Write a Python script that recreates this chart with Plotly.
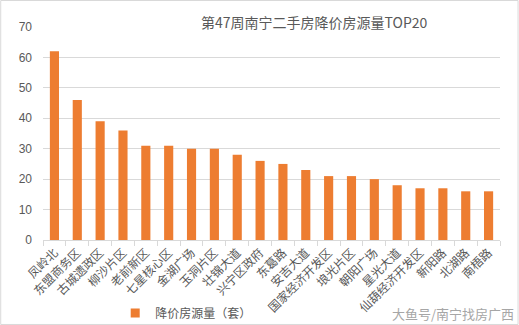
import plotly.graph_objects as go

categories = ["凤岭北", "东盟商务区", "古城遗政区", "柳沙片区", "老前新区", "七星核心区",
              "金湖广场", "玉洞片区", "壮锦大道", "兴宁区政府", "东葛路", "安吉大道",
              "国家经济开发区", "埌光片区", "朝阳广场", "星光大道", "仙葫经济开发区",
              "新阳路", "北湖路", "南梧路"]
values = [62, 46, 39, 36, 31, 31, 30, 30, 28, 26, 25, 23, 21, 21, 20, 18, 17, 17, 16, 16]
series_name = "降价房源量（套）"
title_text = "第47周南宁二手房降价房源量TOP20"
watermark = "大鱼号/南宁找房广西"
y_ticks = [0, 10, 20, 30, 40, 50, 60, 70]

FONT = "Noto Sans CJK SC, sans-serif"
GRAY = "#595959"
ORANGE = "#ED7D31"

fig = go.Figure()
fig.add_trace(go.Bar(x=categories, y=values, name=series_name, showlegend=False,
                     marker=dict(color=ORANGE, line=dict(width=0))))
# legend entry (small square marker like the reference)
fig.add_trace(go.Scatter(x=[None], y=[None], mode="markers", name=series_name,
                         marker=dict(symbol="square", size=9, color=ORANGE)))

fig.update_layout(
    width=519, height=325,
    margin=dict(l=43, r=19, t=27, b=85, autoexpand=False),
    paper_bgcolor="white", plot_bgcolor="white",
    font=dict(family=FONT, size=11, color=GRAY),
    bargap=0.6,
    showlegend=True,
    legend=dict(orientation="h", x=0.158, y=-0.343, xanchor="left", yanchor="middle",
                font=dict(size=12, color=GRAY), bgcolor="rgba(0,0,0,0)",
                itemwidth=30),
    xaxis=dict(type="category", tickangle=-45, tickson="boundaries", automargin=False,
               ticks="outside", ticklen=5, tickcolor="#d9d9d9",
               showline=True, linecolor="#d9d9d9", linewidth=1,
               showgrid=False, tickfont=dict(size=12, color=GRAY)),
    yaxis=dict(range=[0, 70], tickvals=y_ticks, showgrid=True, gridcolor="#d9d9d9",
               zeroline=False, showline=False, ticks="", ticklabelstandoff=10, automargin=False,
               tickfont=dict(size=12, color=GRAY, family="Liberation Sans, Arial, sans-serif")),
    annotations=[
        dict(text=title_text, xref="paper", yref="paper", x=0.595, y=1.0235,
             xanchor="center", yanchor="middle", showarrow=False,
             font=dict(size=14, color=GRAY, family="Noto Sans CJK SC, sans-serif")),
        dict(text=watermark, xref="paper", yref="paper", x=1.035, y=-0.345,
             xanchor="right", yanchor="middle", showarrow=False,
             font=dict(size=13, color="#a6a6a6")),
    ],
    shapes=[dict(type="rect", xref="paper", yref="paper", x0=-0.0925, x1=1.0395,
                 y0=-0.3966, y1=1.1244, line=dict(color="#d9d9d9", width=1))],
)

fig.write_html("out.html")
